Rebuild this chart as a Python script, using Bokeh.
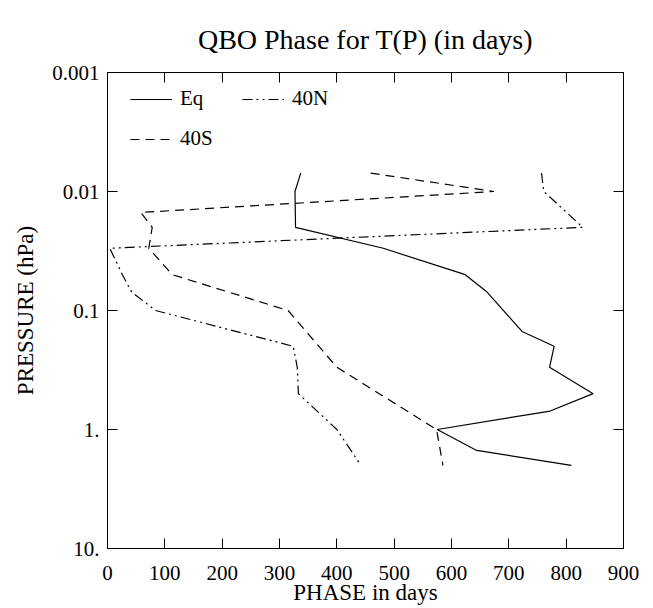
from bokeh.plotting import figure
from bokeh.models import (Range1d, FixedTicker, LinearAxis, LogAxis,
                          CustomJSTickFormatter, Legend, LegendItem)
from bokeh.embed import file_html
from bokeh.resources import INLINE

# ---- data ----
pressure_eq = [0.007, 0.01, 0.02, 0.03, 0.05, 0.07, 0.15, 0.2, 0.3, 0.5, 0.7, 1.0, 1.5, 2.0]
phase_eq = [337, 327, 328, 481, 624, 662, 723, 779, 771, 847, 772, 575, 644, 809]

pressure_40n = [0.007, 0.01, 0.02, 0.03, 0.05, 0.07, 0.1, 0.2, 0.3, 0.5, 1.0, 2.0]
phase_40n = [757, 761, 829, 4, 26, 42, 84, 324, 331, 333, 400, 442]

pressure_40s = [0.007, 0.01, 0.015, 0.02, 0.03, 0.05, 0.1, 0.3, 1.0, 2.0]
phase_40s = [459, 674, 58, 78, 72, 113, 315, 400, 574, 585]

x_ticks = [0, 100, 200, 300, 400, 500, 600, 700, 800, 900]
y_ticks = [0.001, 0.01, 0.1, 1, 10]

FONT = "Liberation Serif"

p = figure(width=653, height=608, output_backend="svg", toolbar_location=None,
           y_axis_type="log", x_range=Range1d(0, 900), y_range=Range1d(10, 0.001),
           min_border_left=107, min_border_right=30, min_border_top=72, min_border_bottom=60)

p.title.text = "QBO Phase for T(P) (in days)"
p.title.align = "center"
p.title.text_font = FONT
p.title.text_font_style = "normal"
p.title.text_font_size = "28px"
p.title.text_color = "black"
p.title.standoff = 35

p.grid.visible = False
p.outline_line_color = "black"
p.background_fill_color = "white"
p.border_fill_color = "white"

fmt_y = CustomJSTickFormatter(code="""
if (tick >= 1) { return tick.toFixed(0) + "."; }
return tick.toString();
""")
blank = CustomJSTickFormatter(code="return '';")

bottom = p.below[0]
left = p.left[0]
bottom.ticker = FixedTicker(ticks=x_ticks)
bottom.axis_label = "PHASE in days"
left.ticker = FixedTicker(ticks=y_ticks)
left.formatter = fmt_y
left.axis_label = "PRESSURE (hPa)"

top = LinearAxis(ticker=FixedTicker(ticks=x_ticks), formatter=blank)
right = LogAxis(ticker=FixedTicker(ticks=y_ticks), formatter=blank)
p.add_layout(top, "above")
p.add_layout(right, "right")

for ax in [bottom, left, top, right]:
    ax.major_tick_in = 10
    ax.major_tick_out = 0
    ax.minor_tick_in = 0
    ax.minor_tick_out = 0
    ax.major_tick_line_color = "black"
    ax.axis_line_color = "black"
    ax.major_label_text_font = FONT
    ax.major_label_text_font_size = "21px"
    ax.major_label_text_font_style = "normal"
    ax.major_label_text_color = "black"
    ax.axis_label_text_font = FONT
    ax.axis_label_text_font_size = "23px"
    ax.axis_label_text_font_style = "normal"
    ax.axis_label_text_color = "black"

top.major_label_standoff = 0
right.major_label_standoff = 0
bottom.major_label_standoff = 17
bottom.axis_label_standoff = -3
bottom.axis_label_text_line_height = 0.8
left.major_label_standoff = 8
left.axis_label_standoff = 11

r_eq = p.line(phase_eq, pressure_eq, line_color="black", line_width=1.2)
r_n = p.line(phase_40n, pressure_40n, line_color="black", line_width=1.2,
             line_dash="10 4 2 4 2 4")
r_s = p.line(phase_40s, pressure_40s, line_color="black", line_width=1.2,
             line_dash="9 6")

legend = Legend(items=[LegendItem(label="Eq", renderers=[r_eq]),
                       LegendItem(label="40N", renderers=[r_n]),
                       LegendItem(label="40S", renderers=[r_s])],
                location=(23, 397), orientation="horizontal", ncols=2)
legend.border_line_color = None
legend.background_fill_alpha = 0
legend.label_text_font = FONT
legend.label_text_font_size = "21px"
legend.label_text_color = "black"
legend.glyph_width = 42
legend.glyph_height = 20
legend.label_height = 20
legend.label_width = 47
legend.label_standoff = 8
legend.spacing = 15
legend.margin = 0
legend.padding = 0
legend.click_policy = "none"
p.add_layout(legend)

open("out.html", "w").write(file_html(p, INLINE))
